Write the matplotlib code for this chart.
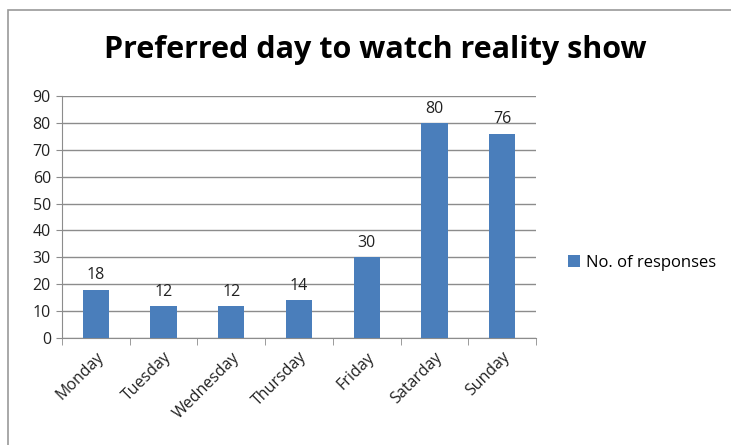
import matplotlib
matplotlib.use("Agg")
import matplotlib.pyplot as plt
from matplotlib.patches import Rectangle
import numpy as np

days = ["Monday", "Tuesday", "Wednesday", "Thursday", "Friday", "Satarday", "Sunday"]
responses = [18, 12, 12, 14, 30, 80, 76]
yticks = [0, 10, 20, 30, 40, 50, 60, 70, 80, 90]

bar_color = "#4a7ebb"
grid_color = "#8c8c8c"

plt.rcParams["font.family"] = ["Open Sans", "DejaVu Sans"]

W, H = 731, 445
fig = plt.figure(figsize=(W / 100, H / 100), dpi=100)

# chart frame (cut off on right and bottom like the screenshot)
fig.patches.append(Rectangle((8 / W, -0.1), 1.2, 1 - 10 / H + 0.1,
                             transform=fig.transFigure, fill=False,
                             edgecolor="#9a9a9a", linewidth=1.2))

ax = fig.add_axes([62 / W, 1 - 338 / H, (536 - 62) / W, (338 - 96) / H])
x = np.arange(len(days))
ax.bar(x, responses, width=0.39, color=bar_color, zorder=3, label="No. of responses")
for xi, v in zip(x, responses):
    ax.text(xi, v + 2.3, str(v), ha="center", va="bottom", fontsize=11.5, color="#222222")

ax.set_xlim(-0.5, len(days) - 0.5)
ax.set_ylim(0, 90)
ax.set_yticks(yticks)
ax.yaxis.grid(True, color=grid_color, linewidth=1, zorder=0)
ax.tick_params(axis="y", length=4, color=grid_color, labelsize=11.5, pad=4, labelcolor="#222222")
ax.set_xticks(x)
ax.set_xticklabels(days, rotation=45, ha="right", rotation_mode="anchor", fontsize=11.5, color="#222222")
ax.tick_params(axis="x", length=0, pad=8)
ax.set_xticks(np.arange(-0.5, len(days)), minor=True)
ax.tick_params(axis="x", which="minor", length=5, color=grid_color)
for s in ["top", "right"]:
    ax.spines[s].set_visible(False)
ax.spines["left"].set_color(grid_color)
ax.spines["bottom"].set_color(grid_color)

fig.text(375 / W, 1 - 50 / H, "Preferred day to watch reality show",
         ha="center", va="center", fontsize=22, fontweight="bold", color="black")

fig.legend(loc="center left", bbox_to_anchor=(553 / W, 1 - 263 / H), frameon=False,
           fontsize=12, handlelength=0.7, handleheight=0.7, handletextpad=0.4)

fig.savefig("out.png", dpi=100, facecolor="white")
